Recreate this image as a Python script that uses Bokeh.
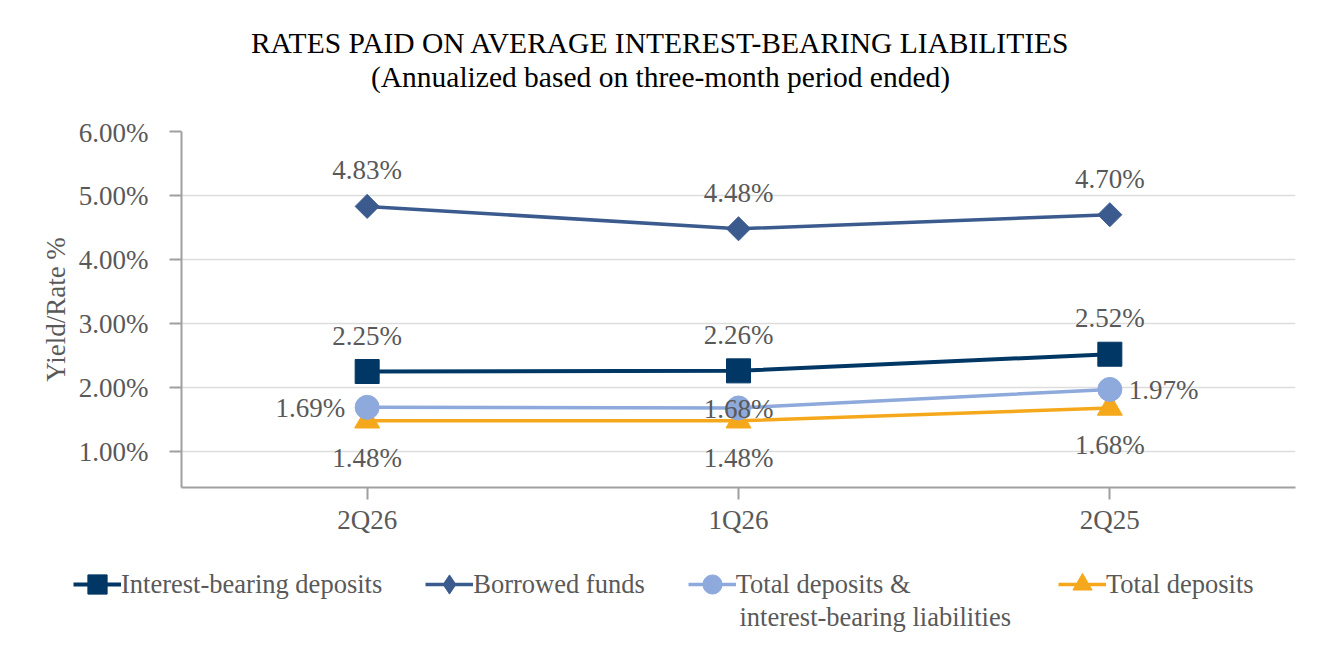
import math
from bokeh.plotting import figure
from bokeh.models import (ColumnDataSource, FactorRange, Range1d, Legend, LegendItem, FixedTicker)
from bokeh.core.properties import value
from bokeh.embed import file_html
from bokeh.resources import INLINE

# ---- data ----
CATEGORIES = ["2Q26", "1Q26", "2Q25"]
INTEREST_BEARING_DEPOSITS = [2.25, 2.26, 2.52]
BORROWED_FUNDS = [4.83, 4.48, 4.70]
TOTAL_DEPOSITS_AND_IBL = [1.69, 1.68, 1.97]
TOTAL_DEPOSITS = [1.48, 1.48, 1.68]
Y_TICKS = [1.0, 2.0, 3.0, 4.0, 5.0, 6.0]
Y_TICK_LABELS = ["1.00%", "2.00%", "3.00%", "4.00%", "5.00%", "6.00%"]
SERIES_NAMES = ["Interest-bearing deposits", "Borrowed funds",
                "Total deposits &", "Total deposits"]
SERIES_NAME_LINE2 = "interest-bearing liabilities"
TITLE = "RATES PAID ON AVERAGE INTEREST-BEARING LIABILITIES"
SUBTITLE = "(Annualized based on three-month period ended)"

# ---- label placement (style) ----
IBL_ALIGN = ["right", "center", "left"]
IBL_XOFF = [-22, 0, 19]

FONT = value("Liberation Serif")
GRAY = "#595959"
C_IBD = "#003764"
C_BF = "#3B5B8E"
C_TDI = "#8EA9DB"
C_TD = "#F6A81C"
FS = "27px"
LFS = "26.5px"
W = 1308

# ---- title figure ----
TH = 117
tf = figure(width=W, height=TH, x_range=Range1d(0, W), y_range=Range1d(0, TH),
            output_backend="svg", toolbar_location=None,
            min_border_left=0, min_border_right=0, min_border_top=0, min_border_bottom=0)
tf.axis.visible = False
tf.grid.visible = False
tf.outline_line_color = None
tf.text(x=[660, 660], y=[TH - 42, TH - 76], text=[TITLE, SUBTITLE], text_align="center",
        text_baseline="middle", text_font=FONT, text_font_size="29.5px", text_color="black")

# ---- main chart ----
p = figure(width=W, height=435, x_range=FactorRange(*CATEGORIES),
           y_range=Range1d(0.4375, 6.0), output_backend="svg", toolbar_location=None,
           min_border_left=181, min_border_right=13, min_border_top=14, min_border_bottom=65)
p.outline_line_color = None
p.background_fill_color = "white"
p.border_fill_color = "white"

p.yaxis.ticker = FixedTicker(ticks=Y_TICKS)
p.yaxis.major_label_overrides = dict(zip(Y_TICKS, Y_TICK_LABELS))
p.yaxis.axis_label = "Yield/Rate %"
p.yaxis.axis_label_text_font = "Liberation Serif"
p.yaxis.axis_label_text_font_size = FS
p.yaxis.axis_label_text_font_style = "normal"
p.yaxis.axis_label_text_color = GRAY
p.yaxis.axis_label_standoff = 5
for ax in (p.xaxis, p.yaxis):
    ax.major_label_text_font = "Liberation Serif"
    ax.major_label_text_font_size = FS
    ax.major_label_text_color = GRAY
    ax.axis_line_color = "#A0A0A0"
    ax.axis_line_width = 2
    ax.major_tick_line_color = "#A0A0A0"
    ax.major_tick_line_width = 2
    ax.major_tick_in = 0
    ax.major_tick_out = 12
    ax.minor_tick_line_color = None
p.yaxis.major_label_standoff = 21
p.xaxis.major_label_standoff = 5

p.xgrid.grid_line_color = None
p.ygrid.grid_line_color = "#DDDDDD"
p.ygrid.grid_line_width = 1.5

src = ColumnDataSource(dict(
    x=CATEGORIES,
    ibd=INTEREST_BEARING_DEPOSITS, bf=BORROWED_FUNDS, tdi=TOTAL_DEPOSITS_AND_IBL, td=TOTAL_DEPOSITS,
    ibd_l=[f"{v:.2f}%" for v in INTEREST_BEARING_DEPOSITS],
    bf_l=[f"{v:.2f}%" for v in BORROWED_FUNDS],
    tdi_l=[f"{v:.2f}%" for v in TOTAL_DEPOSITS_AND_IBL],
    td_l=[f"{v:.2f}%" for v in TOTAL_DEPOSITS],
    tdi_align=IBL_ALIGN, tdi_xoff=IBL_XOFF,
))

STYLES = [
    dict(color=C_IBD, lw=4, marker="square", size=24, angle=0.0, lmarker="square"),
    dict(color=C_BF, lw=3.5, marker="square", size=17, angle=math.pi / 4, lmarker="diamond"),
    dict(color=C_TDI, lw=3.5, marker="circle", size=24, angle=0.0, lmarker="circle"),
    dict(color=C_TD, lw=3.5, marker="triangle", size=25, angle=0.0, lmarker="triangle"),
]
COLS = ["ibd", "bf", "tdi", "td"]
DRAW_ORDER = [0, 1, 3, 2]
for i in DRAW_ORDER:
    s = STYLES[i]
    p.line("x", COLS[i], source=src, color=s["color"], line_width=s["lw"])
    p.scatter("x", COLS[i], source=src, marker=s["marker"], size=s["size"],
              angle=s["angle"], color=s["color"])

common = dict(source=src, text_font=FONT, text_font_size=FS, text_color=GRAY,
              text_baseline="middle")
p.text("x", "bf", text="bf_l", text_align="center", y_offset=-36, **common)
p.text("x", "ibd", text="ibd_l", text_align="center", y_offset=-36, **common)
p.text("x", "td", text="td_l", text_align="center", y_offset=37, **common)
p.text("x", "tdi", text="tdi_l", text_align="tdi_align", x_offset="tdi_xoff", y_offset=1, **common)

# ---- legend figure ----
LH = 104
pl = figure(width=W, height=LH, x_range=Range1d(0, W), y_range=Range1d(0, LH),
            output_backend="svg", toolbar_location=None,
            min_border_left=0, min_border_right=0, min_border_top=0, min_border_bottom=0)
pl.axis.visible = False
pl.grid.visible = False
pl.outline_line_color = None
items = []
for i, name in enumerate(SERIES_NAMES):
    s = STYLES[i]
    # swatch renderers kept outside the visible range; only the legend shows them
    r1 = pl.line(x=[-50, -40], y=[-50, -50], color=s["color"], line_width=s["lw"])
    r2 = pl.scatter(x=[-50], y=[-50], marker=s["lmarker"], size=s["size"], color=s["color"])
    items.append(LegendItem(label=name, renderers=[r1, r2]))

pl.text(x=[739], y=[LH - 64], text=[SERIES_NAME_LINE2], text_align="left", text_baseline="middle",
        text_font=FONT, text_font_size=LFS, text_color=GRAY)


def make_legend(its, loc):
    lg = Legend(items=its, orientation="horizontal", location=loc)
    lg.label_text_font = "Liberation Serif"
    lg.label_text_font_size = LFS
    lg.label_text_color = GRAY
    lg.glyph_width = 48
    lg.glyph_height = 48
    lg.spacing = 43
    lg.label_standoff = 0
    lg.padding = 0
    lg.margin = 0
    lg.border_line_color = None
    lg.background_fill_alpha = 0
    return lg


pl.add_layout(make_legend(items[:3], (73, 48)), "center")
pl.add_layout(make_legend(items[3:], (1058, 48)), "center")

open("out.html", "w").write(file_html([tf, p, pl], INLINE))
